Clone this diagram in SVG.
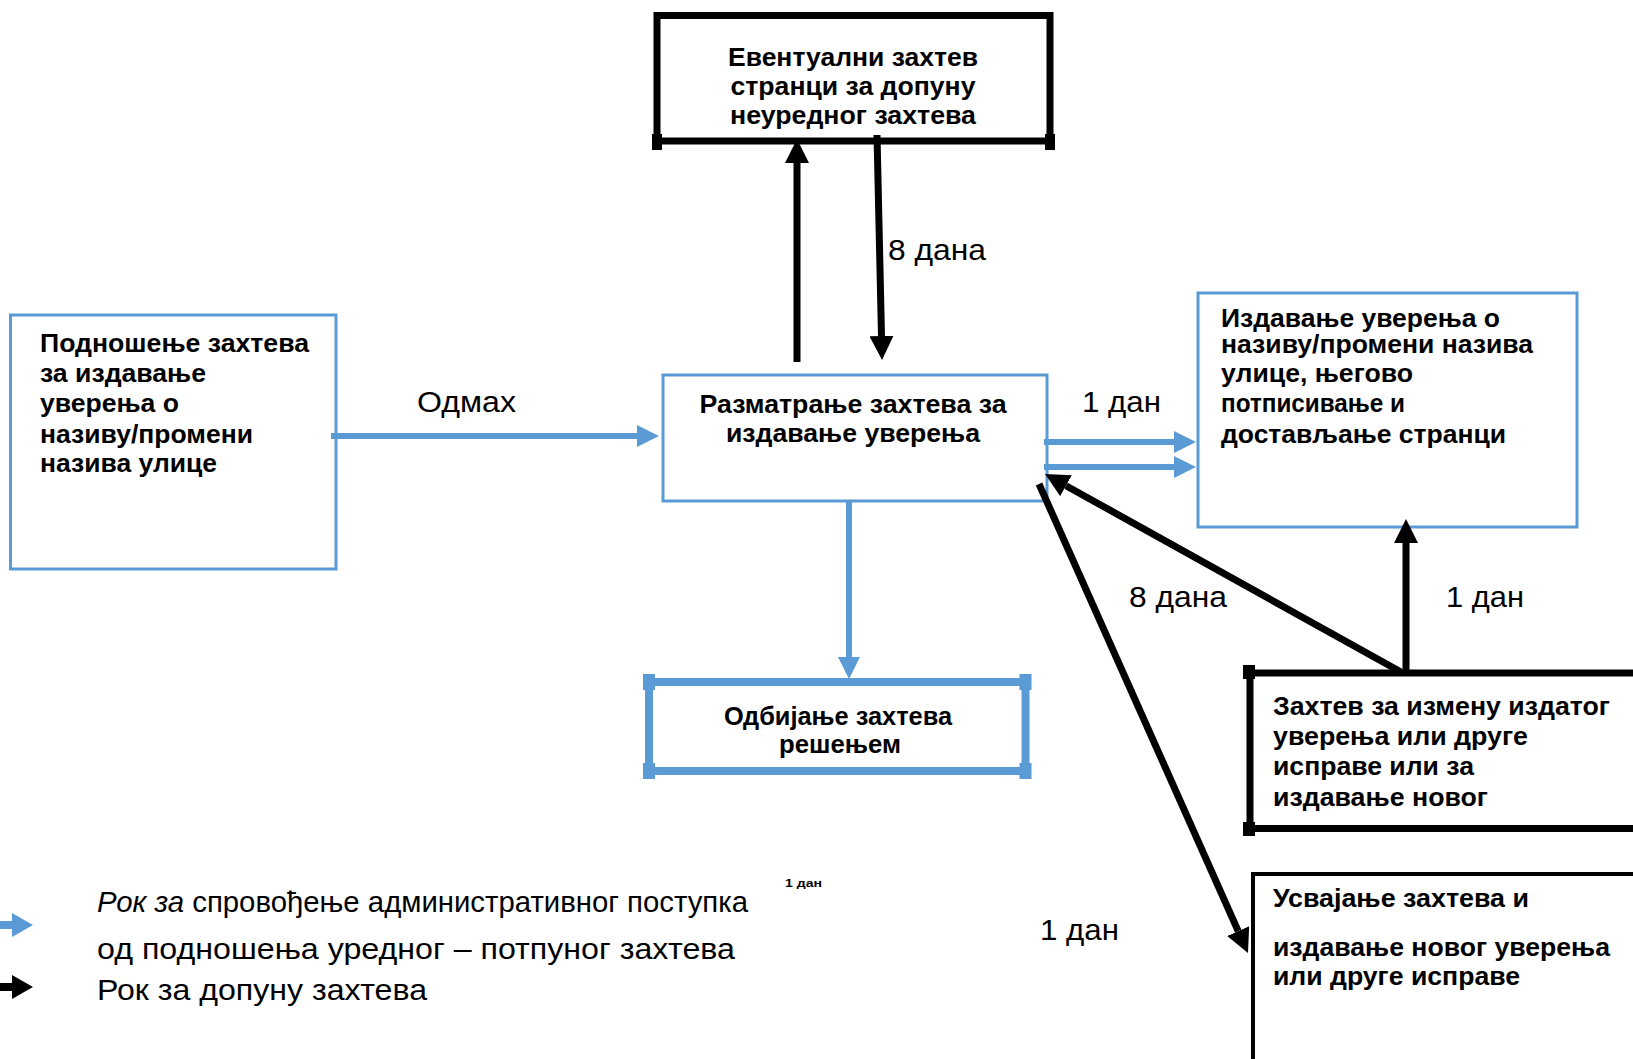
<svg xmlns="http://www.w3.org/2000/svg" width="1633" height="1059" viewBox="0 0 1633 1059">
<style>
.bb{fill:#fff;stroke:#5B9BD5;stroke-width:3}
.kb{fill:#fff;stroke:#000;stroke-width:7}
.t{font-family:"Liberation Sans",Arial,sans-serif;font-weight:bold;font-size:25.5px;fill:#000}
.l{font-family:"Liberation Sans",Arial,sans-serif;font-size:29px;fill:#000}
.g{font-family:"Liberation Sans",Arial,sans-serif;font-size:30px;fill:#000}
.bl{stroke:#5B9BD5;stroke-width:6;fill:none}
.kl{stroke:#000;stroke-width:7;fill:none}
.m{text-anchor:middle}
</style>
<defs>
<marker id="ab" markerUnits="userSpaceOnUse" markerWidth="22" markerHeight="22" refX="0" refY="11" orient="auto"><path d="M0,0 L22,11 L0,22 z" fill="#5B9BD5"/></marker>
<marker id="ak" markerUnits="userSpaceOnUse" markerWidth="24" markerHeight="24" refX="0" refY="12" orient="auto"><path d="M0,0 L24,12 L0,24 z" fill="#000"/></marker>
</defs>
<rect width="1633" height="1059" fill="#fff"/>

<g id="n-eventualni">
<rect class="kb" x="657" y="15.5" width="393" height="125.5"/>
<path d="M652,134h10v16h-10z M1045,134h10v16h-10z" fill="#000"/>
<text class="t m" x="853" y="66" textLength="250" lengthAdjust="spacingAndGlyphs">Евентуални захтев</text>
<text class="t m" x="853" y="95" textLength="245" lengthAdjust="spacingAndGlyphs">странци за допуну</text>
<text class="t m" x="853" y="124" textLength="246" lengthAdjust="spacingAndGlyphs">неуредног захтева</text>
</g>

<g id="n-podnosenje">
<rect class="bb" x="10.5" y="315" width="325.5" height="254"/>
<text class="t" x="40" y="352" textLength="269" lengthAdjust="spacingAndGlyphs">Подношење захтева</text>
<text class="t" x="40" y="382" textLength="166" lengthAdjust="spacingAndGlyphs">за издавање</text>
<text class="t" x="40" y="412" textLength="139" lengthAdjust="spacingAndGlyphs">уверења о</text>
<text class="t" x="40" y="443" textLength="213" lengthAdjust="spacingAndGlyphs">називу/промени</text>
<text class="t" x="40" y="472" textLength="177" lengthAdjust="spacingAndGlyphs">назива улице</text>
</g>

<g id="n-razmatranje">
<rect class="bb" x="663" y="375" width="384" height="126"/>
<text class="t m" x="853" y="413" textLength="307" lengthAdjust="spacingAndGlyphs">Разматрање захтева за</text>
<text class="t m" x="853" y="442" textLength="254" lengthAdjust="spacingAndGlyphs">издавање уверења</text>
</g>

<g id="n-izdavanje">
<rect class="bb" x="1198" y="293" width="379" height="234"/>
<text class="t" x="1221" y="327" textLength="279" lengthAdjust="spacingAndGlyphs">Издавање уверења о</text>
<text class="t" x="1221" y="353" textLength="312" lengthAdjust="spacingAndGlyphs">називу/промени назива</text>
<text class="t" x="1221" y="382" textLength="192" lengthAdjust="spacingAndGlyphs">улице, његово</text>
<text class="t" x="1221" y="412" textLength="184" lengthAdjust="spacingAndGlyphs">потписивање и</text>
<text class="t" x="1221" y="443" textLength="285" lengthAdjust="spacingAndGlyphs">достављање странци</text>
</g>

<g id="n-odbijanje">
<rect x="649" y="682" width="376.5" height="89" fill="#fff" stroke="#5B9BD5" stroke-width="8"/>
<path d="M643,674h12v16h-12z M1019.5,674h12v16h-12z M643,763h12v16h-12z M1019.5,763h12v16h-12z" fill="#5B9BD5"/>
<text class="t m" x="838" y="725" textLength="228" lengthAdjust="spacingAndGlyphs">Одбијање захтева</text>
<text class="t m" x="840" y="753" textLength="122" lengthAdjust="spacingAndGlyphs">решењем</text>
</g>

<g id="n-izmena">
<rect class="kb" x="1250" y="673" width="420" height="155.5"/>
<path d="M1243,665h12v14h-12z M1243,822h12v14h-12z" fill="#000"/>
<text class="t" x="1273" y="715" textLength="337" lengthAdjust="spacingAndGlyphs">Захтев за измену издатог</text>
<text class="t" x="1273" y="745" textLength="255" lengthAdjust="spacingAndGlyphs">уверења или друге</text>
<text class="t" x="1273" y="775" textLength="201" lengthAdjust="spacingAndGlyphs">исправе или за</text>
<text class="t" x="1273" y="806" textLength="215" lengthAdjust="spacingAndGlyphs">издавање новог</text>
</g>

<g id="n-usvajanje">
<rect x="1253" y="874" width="420" height="300" fill="#fff" stroke="#000" stroke-width="4"/>
<text class="t" x="1273" y="907" textLength="256" lengthAdjust="spacingAndGlyphs">Усвајање захтева и</text>
<text class="t" x="1273" y="956" textLength="337" lengthAdjust="spacingAndGlyphs">издавање новог уверења</text>
<text class="t" x="1273" y="985" textLength="247" lengthAdjust="spacingAndGlyphs">или друге исправе</text>
</g>

<g id="connectors">
<line class="bl" x1="331" y1="436" x2="637" y2="436" marker-end="url(#ab)"/>
<line class="bl" x1="1044" y1="442" x2="1174" y2="442" marker-end="url(#ab)"/>
<line class="bl" x1="1044" y1="467" x2="1174" y2="467" marker-end="url(#ab)"/>
<line class="bl" x1="849" y1="500" x2="849" y2="657" marker-end="url(#ab)"/>
<line class="kl" x1="797" y1="362" x2="797" y2="163" marker-end="url(#ak)"/>
<line class="kl" x1="877" y1="135" x2="881.5" y2="336" marker-end="url(#ak)"/>
<line class="kl" x1="1406" y1="672" x2="1406" y2="543" marker-end="url(#ak)"/>
<line class="kl" x1="1401" y1="672" x2="1066" y2="485.7" marker-end="url(#ak)"/>
<line class="kl" x1="1039" y1="484" x2="1238.2" y2="931.1" marker-end="url(#ak)"/>
</g>

<g id="labels">
<text class="l" x="417" y="412" textLength="99" lengthAdjust="spacingAndGlyphs">Одмах</text>
<text class="l" x="1082" y="412" textLength="79" lengthAdjust="spacingAndGlyphs">1 дан</text>
<text class="l" x="888" y="260" textLength="98" lengthAdjust="spacingAndGlyphs">8 дана</text>
<text class="l" x="1129" y="607" textLength="98" lengthAdjust="spacingAndGlyphs">8 дана</text>
<text class="l" x="1446" y="607" textLength="78" lengthAdjust="spacingAndGlyphs">1 дан</text>
<text class="l" x="1040" y="940" textLength="79" lengthAdjust="spacingAndGlyphs">1 дан</text>
<text class="t" x="785" y="887" style="font-size:11px" textLength="37" lengthAdjust="spacingAndGlyphs">1 дан</text>
</g>

<g id="legend">
<path d="M0,925H13" stroke="#5B9BD5" stroke-width="8"/>
<path d="M12,913L33,925L12,937z" fill="#5B9BD5"/>
<path d="M0,987H13" stroke="#000" stroke-width="8"/>
<path d="M12,975L33,987L12,999z" fill="#000"/>
<text class="g" x="97" y="912" textLength="651" lengthAdjust="spacingAndGlyphs"><tspan font-style="italic">Рок за</tspan> спровођење административног поступка</text>
<text class="g" x="97" y="959" textLength="638" lengthAdjust="spacingAndGlyphs">од подношења уредног – потпуног захтева</text>
<text class="g" x="97" y="1000" textLength="330" lengthAdjust="spacingAndGlyphs">Рок за допуну захтева</text>
</g>
</svg>
